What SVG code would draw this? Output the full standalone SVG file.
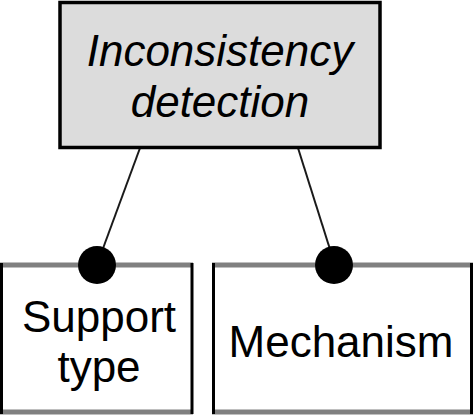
<svg xmlns="http://www.w3.org/2000/svg" width="473" height="416" viewBox="0 0 473 416">
<style>
.t{font-family:"Liberation Sans",Arial,sans-serif;font-size:44px;fill:#000;text-anchor:middle}
.hb{stroke:#808080;stroke-width:5}
.vb{stroke:#000;stroke-width:3}
.c{stroke:#1a1a1a;stroke-width:2;fill:none}
</style>
<rect width="473" height="416" fill="#fff"/>
<g id="connectors">
<line class="c" x1="140" y1="148" x2="98" y2="262"/>
<line class="c" x1="298" y1="148" x2="334" y2="262"/>
</g>
<g id="top">
<rect x="60" y="2.5" width="320" height="145" fill="#dcdcdc" stroke="#000" stroke-width="3.5"/>
<text class="t" x="220" y="66" font-style="italic">Inconsistency</text>
<text class="t" x="220" y="117" font-style="italic">detection</text>
</g>
<g id="support">
<rect x="1.5" y="265" width="190.5" height="147" fill="#fff"/>
<line class="hb" x1="0" y1="265" x2="193" y2="265"/>
<line class="hb" x1="0" y1="412" x2="193" y2="412"/>
<line class="vb" x1="1.5" y1="263" x2="1.5" y2="414"/>
<line class="vb" x1="192" y1="263" x2="192" y2="414"/>
<circle cx="97" cy="265" r="19" fill="#000"/>
<text class="t" x="99" y="332">Support</text>
<text class="t" x="99" y="382">type</text>
</g>
<g id="mechanism">
<rect x="213.5" y="265" width="258" height="147" fill="#fff"/>
<line class="hb" x1="212" y1="265" x2="473" y2="265"/>
<line class="hb" x1="212" y1="412" x2="473" y2="412"/>
<line class="vb" x1="213.5" y1="263" x2="213.5" y2="414"/>
<line class="vb" x1="471.5" y1="263" x2="471.5" y2="414"/>
<circle cx="334" cy="265" r="19" fill="#000"/>
<text class="t" x="341" y="357">Mechanism</text>
</g>
</svg>
